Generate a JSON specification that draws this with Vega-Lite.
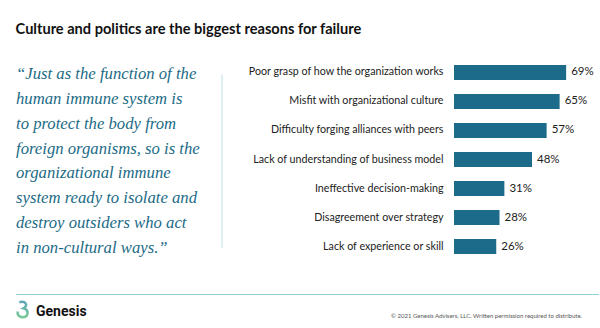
{
  "$schema": "https://vega.github.io/schema/vega-lite/v6.json",
  "background": "white",
  "padding": {"left": 12, "top": 22, "right": 0, "bottom": 0},
  "config": {"view": {"stroke": null}, "font": "Lato"},
  "title": {"text": "Culture and politics are the biggest reasons for failure", "anchor": "start", "fontSize": 14.6, "font": "Lato", "fontWeight": "bold", "color": "#111111", "offset": 25, "dx": 3},
  "spacing": 33.5,
  "vconcat": [
    {
      "spacing": 24,
      "hconcat": [
        {
          "width": 206,
          "height": 198,
          "layer": [
            {
              "data": {"values": [
                {"i": 1, "line": "“Just as the function of the"},
                {"i": 2, "line": "human immune system is"},
                {"i": 3, "line": "to protect the body from"},
                {"i": 4, "line": "foreign organisms, so is the"},
                {"i": 5, "line": "organizational immune"},
                {"i": 6, "line": "system ready to isolate and"},
                {"i": 7, "line": "destroy outsiders who act"},
                {"i": 8, "line": "in non-cultural ways.”"}
              ]},
              "mark": {"type": "text", "align": "left", "baseline": "middle", "font": "Liberation Serif", "fontStyle": "italic", "fontSize": 16.7, "color": "#1b6b86"},
              "encoding": {
                "x": {"datum": 0, "type": "quantitative", "scale": {"domain": [0, 1]}, "axis": null},
                "y": {"field": "i", "type": "ordinal", "scale": {"type": "point", "padding": 0.5}, "axis": null},
                "text": {"field": "line"}
              }
            },
            {
              "data": {"values": [{}]},
              "mark": {"type": "rule", "color": "#d3eaf1", "strokeWidth": 1.5},
              "encoding": {
                "x": {"datum": 1, "type": "quantitative"},
                "y": {"datum": 1, "type": "ordinal"},
                "y2": {"datum": 8}
              }
            }
          ]
        },
        {
          "width": 130,
          "height": 195,
          "data": {"values": [
            {"reason": "Poor grasp of how the organization works", "pct": 0.69},
            {"reason": "Misfit with organizational culture", "pct": 0.65},
            {"reason": "Difficulty forging alliances with peers", "pct": 0.57},
            {"reason": "Lack of understanding of business model", "pct": 0.48},
            {"reason": "Ineffective decision-making", "pct": 0.31},
            {"reason": "Disagreement over strategy", "pct": 0.28},
            {"reason": "Lack of experience or skill", "pct": 0.26}
          ]},
          "encoding": {
            "y": {"field": "reason", "type": "nominal", "sort": null, "scale": {"paddingInner": 0.48, "paddingOuter": 0.1},
                  "axis": {"title": null, "domain": false, "ticks": false, "labelPadding": 11, "labelFontSize": 10.7, "labelColor": "#222222", "labelFont": "Lato", "labelLimit": 300}},
            "x": {"field": "pct", "type": "quantitative", "scale": {"domain": [0, 0.8]}, "axis": null}
          },
          "layer": [
            {"mark": {"type": "bar", "color": "#1d6b8a"}},
            {"mark": {"type": "text", "align": "left", "baseline": "middle", "dx": 5, "fontSize": 11.5, "font": "Lato", "color": "#222222"},
             "encoding": {"text": {"field": "pct", "type": "quantitative", "format": ".0%"}}}
          ]
        }
      ]
    },
    {
      "width": 583,
      "height": 30,
      "data": {"values": [{"brand": "Genesis", "note": "© 2021 Genesis Advisers, LLC. Written permission required to distribute."}]},
      "layer": [
        {
          "mark": {"type": "rule", "color": "#8fcfdc", "strokeWidth": 1},
          "encoding": {
            "x": {"datum": 0, "type": "quantitative", "scale": {"domain": [0, 1]}, "axis": null},
            "x2": {"datum": 1},
            "y": {"datum": 1, "type": "quantitative", "scale": {"domain": [0, 1]}, "axis": null}
          }
        },
        {
          "mark": {"type": "point", "filled": false, "strokeWidth": 2.5, "size": 260,
                   "shape": "M-0.4,-0.9 C0.4,-1.1 0.75,-0.5 0.1,-0.15 C0.85,0.05 0.75,0.95 0,0.95 C-0.45,0.95 -0.7,0.6 -0.6,0.25",
                   "stroke": {"gradient": "linear", "x1": 0, "y1": 0, "x2": 0, "y2": 1, "stops": [{"offset": 0, "color": "#1f7f9a"}, {"offset": 1, "color": "#3db36a"}]}},
          "encoding": {
            "x": {"datum": 0.0113, "type": "quantitative"},
            "y": {"datum": 0.5, "type": "quantitative"}
          }
        },
        {
          "mark": {"type": "text", "align": "left", "baseline": "middle", "dx": 20, "fontSize": 14, "fontWeight": "bold", "font": "Roboto", "color": "#111111"},
          "encoding": {
            "x": {"datum": 0, "type": "quantitative"},
            "y": {"datum": 0.42, "type": "quantitative"},
            "text": {"field": "brand"}
          }
        },
        {
          "mark": {"type": "text", "align": "right", "baseline": "middle", "dx": -17, "fontSize": 6, "font": "Lato", "color": "#555555"},
          "encoding": {
            "x": {"datum": 1, "type": "quantitative"},
            "y": {"datum": 0.3, "type": "quantitative"},
            "text": {"field": "note"}
          }
        }
      ]
    }
  ]
}
